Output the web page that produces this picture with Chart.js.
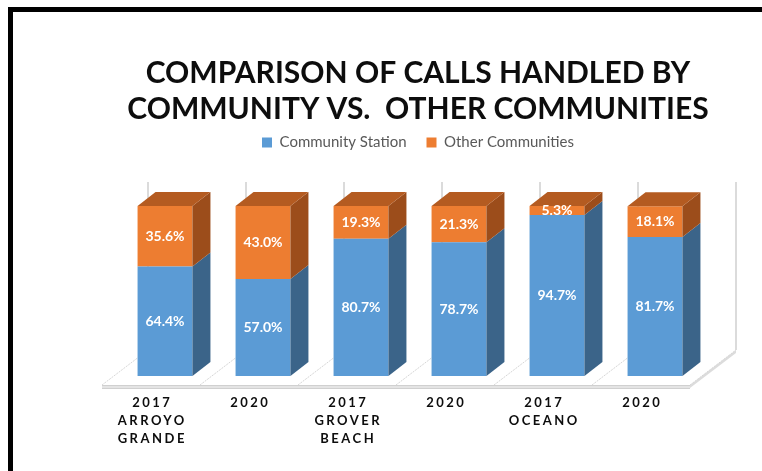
<!DOCTYPE html>
<html>
<head>
<meta charset="utf-8">
<script src="https://cdn.jsdelivr.net/npm/chart.js@4.4.1/dist/chart.umd.min.js"></script>
<style>
  html, body { margin: 0; padding: 0; background: #fff; overflow: hidden; }
  #wrap { position: relative; width: 762px; height: 471px; }
  #frame { position: absolute; left: 8px; top: 7px; width: 820px; height: 520px;
           border-left: 5px solid #000; border-top: 5px solid #000; pointer-events: none; }
</style>
</head>
<body>
<div id="wrap">
  <canvas id="chart" width="762" height="471"></canvas>
  <div id="frame"></div>
</div>
<script>
// ---- data ----
const categories = [
  ['2017', 'ARROYO', 'GRANDE'],
  ['2020'],
  ['2017', 'GROVER', 'BEACH'],
  ['2020'],
  ['2017', 'OCEANO'],
  ['2020']
];
const communityStation = [64.4, 57.0, 80.7, 78.7, 94.7, 81.7];
const otherCommunities = [35.6, 43.0, 19.3, 21.3, 5.3, 18.1];
const seriesNames = ['Community Station', 'Other Communities'];
const titleLines = ['COMPARISON OF CALLS HANDLED BY', 'COMMUNITY VS.  OTHER COMMUNITIES'];

// ---- look ----
const FONT = 'Lato, "Open Sans", sans-serif';
const faces = [
  { front: '#5B9BD5', side: '#3B6489', top: '#4A7FB0' },
  { front: '#ED7D31', side: '#9C4D1B', top: '#B45B21' }
];
const BAR_DEPTH = { dx: 18, dy: -14 };   // extrusion of each column
const FLOOR_DEPTH = { dx: 46, dy: -35 }; // depth of floor / back wall
const INSET = { dx: 14, dy: -11 };       // columns stand this far behind the floor's front edge

// Draws the 3-D floor, back wall edges, column sides/tops, value labels and category labels
const box3d = {
  id: 'box3d',
  beforeDatasetsDraw(chart) {
    const { ctx, scales: { x, y } } = chart;
    const n = chart.data.labels.length;
    const step = x.getPixelForValue(1) - x.getPixelForValue(0);
    const base = y.getPixelForValue(0);
    const top = y.getPixelForValue(y.max);
    const fx0 = x.getPixelForValue(0) - step / 2 - INSET.dx;
    const fx1 = x.getPixelForValue(n - 1) + step / 2 - INSET.dx;
    const fy = base - INSET.dy - 2;
    const thick = 3;
    ctx.save();
    // floor top surface
    ctx.beginPath();
    ctx.moveTo(fx0, fy);
    ctx.lineTo(fx1, fy);
    ctx.lineTo(fx1 + FLOOR_DEPTH.dx, fy + FLOOR_DEPTH.dy);
    ctx.lineTo(fx0 + FLOOR_DEPTH.dx, fy + FLOOR_DEPTH.dy);
    ctx.closePath();
    ctx.fillStyle = '#ffffff';
    ctx.fill();
    // floor slab front and right side
    ctx.fillStyle = '#e4e4e4';
    ctx.fillRect(fx0, fy, fx1 - fx0, thick);
    ctx.beginPath();
    ctx.moveTo(fx1, fy);
    ctx.lineTo(fx1 + FLOOR_DEPTH.dx, fy + FLOOR_DEPTH.dy);
    ctx.lineTo(fx1 + FLOOR_DEPTH.dx, fy + FLOOR_DEPTH.dy + thick);
    ctx.lineTo(fx1, fy + thick);
    ctx.closePath();
    ctx.fillStyle = '#dcdcdc';
    ctx.fill();
    ctx.strokeStyle = '#d0d0d0';
    ctx.lineWidth = 1;
    ctx.beginPath();
    ctx.moveTo(fx0, fy + 0.5); ctx.lineTo(fx1, fy + 0.5);
    ctx.moveTo(fx0, fy + thick + 0.5); ctx.lineTo(fx1, fy + thick + 0.5);
    ctx.stroke();
    // floor division lines
    ctx.strokeStyle = '#d6d6d6';
    ctx.setLineDash([2, 1]);
    ctx.beginPath();
    for (let k = 0; k <= n; k++) {
      const px = fx0 + k * step;
      ctx.moveTo(px, fy);
      ctx.lineTo(px + FLOOR_DEPTH.dx, fy + FLOOR_DEPTH.dy);
    }
    ctx.stroke();
    ctx.setLineDash([]);
    // back wall division lines
    const wallTop = top + (FLOOR_DEPTH.dy - INSET.dy);
    ctx.strokeStyle = '#cfcfcf';
    ctx.lineWidth = 1.5;
    ctx.beginPath();
    for (let k = 0; k <= n; k++) {
      const px = fx0 + k * step + FLOOR_DEPTH.dx;
      ctx.moveTo(px, wallTop);
      ctx.lineTo(px, fy + FLOOR_DEPTH.dy);
    }
    ctx.stroke();
    ctx.restore();
  },
  afterDatasetsDraw(chart) {
    const { ctx } = chart;
    const last = chart.data.datasets.length - 1;
    ctx.save();
    chart.data.datasets.forEach((ds, d) => {
      const meta = chart.getDatasetMeta(d);
      meta.data.forEach((el) => {
        const { x, y, base, width } = el.getProps(['x', 'y', 'base', 'width'], true);
        const l = x - width / 2, r = x + width / 2;
        const yt = Math.min(y, base), yb = Math.max(y, base);
        ctx.beginPath();
        ctx.moveTo(r, yt);
        ctx.lineTo(r + BAR_DEPTH.dx, yt + BAR_DEPTH.dy);
        ctx.lineTo(r + BAR_DEPTH.dx, yb + BAR_DEPTH.dy);
        ctx.lineTo(r, yb);
        ctx.closePath();
        ctx.fillStyle = faces[d].side;
        ctx.fill();
        if (d === last) {
          ctx.beginPath();
          ctx.moveTo(l, yt);
          ctx.lineTo(l + BAR_DEPTH.dx, yt + BAR_DEPTH.dy);
          ctx.lineTo(r + BAR_DEPTH.dx, yt + BAR_DEPTH.dy);
          ctx.lineTo(r, yt);
          ctx.closePath();
          ctx.fillStyle = faces[d].top;
          ctx.fill();
        }
      });
    });
    // value labels
    ctx.font = 'bold 14px ' + FONT;
    ctx.fillStyle = '#ffffff';
    ctx.textAlign = 'center';
    ctx.textBaseline = 'middle';
    chart.data.datasets.forEach((ds, d) => {
      chart.getDatasetMeta(d).data.forEach((el, i) => {
        const { x, y, base } = el.getProps(['x', 'y', 'base'], true);
        ctx.fillText(ds.data[i].toFixed(1) + '%', x, (y + base) / 2);
      });
    });
    // category labels along the floor front edge
    const xs = chart.scales.x, ys = chart.scales.y;
    const ly = ys.getPixelForValue(0) - INSET.dy + 16;
    const spacing = 2.5;
    ctx.font = 'bold 13px ' + FONT;
    ctx.fillStyle = '#0d0d0d';
    ctx.letterSpacing = spacing + 'px';
    chart.data.labels.forEach((lines, i) => {
      const cx = xs.getPixelForValue(i) - INSET.dx + spacing / 2;
      [].concat(lines).forEach((t, j) => ctx.fillText(t, cx, ly + j * 18));
    });
    ctx.letterSpacing = '0px';
    ctx.restore();
  }
};

const hidden = { grid: { display: false }, border: { display: false }, ticks: { display: false } };

new Chart(document.getElementById('chart'), {
  type: 'bar',
  data: {
    labels: categories,
    datasets: [
      { label: seriesNames[0], data: communityStation, backgroundColor: faces[0].front, borderWidth: 0 },
      { label: seriesNames[1], data: otherCommunities, backgroundColor: faces[1].front, borderWidth: 0 }
    ]
  },
  options: {
    responsive: false,
    animation: false,
    events: [],
    layout: { padding: { left: 74 } },
    datasets: { bar: { barPercentage: 0.56, categoryPercentage: 1 } },
    scales: {
      x: { stacked: true, ...hidden, afterFit(s) { s.height = 95; } },
      y: { stacked: true, min: 0, max: 100, ...hidden, afterFit(s) { s.width = 42; } },
      gap: { type: 'category', position: 'top', ...hidden, afterFit(s) { s.height = 46; } },
      side: { type: 'linear', position: 'right', ...hidden, afterFit(s) { s.width = 58; } }
    },
    plugins: {
      tooltip: { enabled: false },
      title: {
        display: true,
        text: titleLines,
        color: '#0d0d0d',
        font: { family: FONT, size: 30, weight: 'bold', lineHeight: '36px' },
        padding: { top: 55, bottom: -12 }
      },
      legend: {
        display: true,
        position: 'top',
        labels: {
          color: '#595959',
          font: { family: FONT, size: 15 },
          boxWidth: 10,
          boxHeight: 10,
          padding: 20
        }
      }
    }
  },
  plugins: [box3d]
});
</script>
</body>
</html>
